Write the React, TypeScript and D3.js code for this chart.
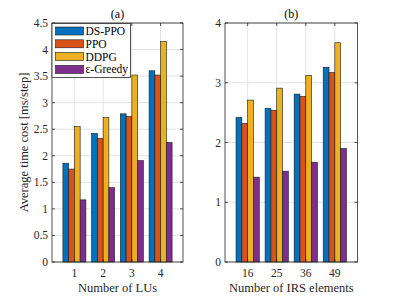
import React, { useEffect, useRef } from "react";
import * as d3 from "d3";

// Series and categories
const seriesNames = ["DS-PPO", "PPO", "DDPG", "\u03b5-Greedy"];
const seriesColors = ["#0072BD", "#D95319", "#EDB120", "#7E2F8E"];

const luLabels = ["1", "2", "3", "4"];
const luDsPpo = [1.86, 2.42, 2.79, 3.6];
const luPpo = [1.75, 2.33, 2.74, 3.52];
const luDdpg = [2.55, 2.72, 3.52, 4.15];
const luGreedy = [1.17, 1.4, 1.91, 2.25];
const luTicks = [0, 0.5, 1, 1.5, 2, 2.5, 3, 3.5, 4, 4.5];

const irsLabels = ["16", "25", "36", "49"];
const irsDsPpo = [2.42, 2.57, 2.81, 3.26];
const irsPpo = [2.32, 2.54, 2.77, 3.17];
const irsDdpg = [2.71, 2.91, 3.12, 3.67];
const irsGreedy = [1.42, 1.52, 1.67, 1.9];
const irsTicks = [0, 1, 2, 3, 4];

const FONT = "'Liberation Serif', 'Times New Roman', serif";
const AXIS = "#262626";

function drawPanel(svg, opts) {
  const { left, right, top, bottom, labels, series, yMax, ticks, title, xLabel, yLabel, legend } = opts;

  // category position scale (MATLAB-style xlim around 1..n)
  const x = d3.scaleLinear().domain([0.22, labels.length + 0.78]).range([left, right]);
  const y = d3.scaleLinear().domain([0, yMax]).range([bottom, top]);
  const step = x(2) - x(1);
  const sub = d3
    .scaleBand()
    .domain(d3.range(series.length))
    .range([-step * 0.4, step * 0.4]);

  const g = svg.append("g");

  // grid
  g.append("g")
    .selectAll("line")
    .data(ticks)
    .join("line")
    .attr("x1", left)
    .attr("x2", right)
    .attr("y1", d => y(d))
    .attr("y2", d => y(d))
    .attr("stroke", "#e3e3e3")
    .attr("stroke-width", 1);
  g.append("g")
    .selectAll("line")
    .data(labels)
    .join("line")
    .attr("x1", (d, i) => x(i + 1))
    .attr("x2", (d, i) => x(i + 1))
    .attr("y1", top)
    .attr("y2", bottom)
    .attr("stroke", "#e3e3e3")
    .attr("stroke-width", 1);

  // bars
  series.forEach((vals, s) => {
    g.append("g")
      .selectAll("rect")
      .data(vals)
      .join("rect")
      .attr("x", (d, i) => x(i + 1) + sub(s))
      .attr("y", d => y(d))
      .attr("width", sub.bandwidth())
      .attr("height", d => y(0) - y(d))
      .attr("fill", seriesColors[s])
      .attr("stroke", "#1a1a1a")
      .attr("stroke-width", 0.6);
  });

  // box
  g.append("rect")
    .attr("x", left)
    .attr("y", top)
    .attr("width", right - left)
    .attr("height", bottom - top)
    .attr("fill", "none")
    .attr("stroke", AXIS)
    .attr("stroke-width", 0.8);

  // y ticks (inward, both sides)
  const yt = g.append("g").attr("font-family", FONT).attr("font-size", 11.5).attr("fill", AXIS);
  ticks.forEach(t => {
    yt.append("line").attr("x1", left).attr("x2", left + 3).attr("y1", y(t)).attr("y2", y(t)).attr("stroke", AXIS).attr("stroke-width", 0.8);
    yt.append("line").attr("x1", right).attr("x2", right - 3).attr("y1", y(t)).attr("y2", y(t)).attr("stroke", AXIS).attr("stroke-width", 0.8);
    yt.append("text")
      .attr("x", left - 4)
      .attr("y", y(t))
      .attr("dy", "0.35em")
      .attr("text-anchor", "end")
      .text(t);
  });

  // x ticks
  labels.forEach((l, i) => {
    yt.append("line").attr("x1", x(i + 1)).attr("x2", x(i + 1)).attr("y1", bottom).attr("y2", bottom - 3).attr("stroke", AXIS).attr("stroke-width", 0.8);
    yt.append("line").attr("x1", x(i + 1)).attr("x2", x(i + 1)).attr("y1", top).attr("y2", top + 3).attr("stroke", AXIS).attr("stroke-width", 0.8);
    yt.append("text")
      .attr("x", x(i + 1))
      .attr("y", bottom + 14.5)
      .attr("text-anchor", "middle")
      .text(l);
  });

  // title and labels
  const cx = (left + right) / 2;
  g.append("text")
    .attr("x", cx)
    .attr("y", top - 5)
    .attr("text-anchor", "middle")
    .attr("font-family", FONT)
    .attr("font-size", 12)
    .attr("fill", "#000")
    .text(title);
  g.append("text")
    .attr("x", cx)
    .attr("y", bottom + 29.5)
    .attr("text-anchor", "middle")
    .attr("font-family", FONT)
    .attr("font-size", 12.5)
    .attr("fill", AXIS)
    .text(xLabel);
  if (yLabel) {
    g.append("text")
      .attr("transform", `translate(${left - 24.5},${(top + bottom) / 2}) rotate(-90)`)
      .attr("text-anchor", "middle")
      .attr("font-family", FONT)
      .attr("font-size", 12.5)
      .attr("fill", AXIS)
      .text(yLabel);
  }

  // legend
  if (legend) {
    const lg = g.append("g");
    lg.append("rect")
      .attr("x", left)
      .attr("y", top + 0.5)
      .attr("width", 78.5)
      .attr("height", 54)
      .attr("fill", "#fff")
      .attr("stroke", AXIS)
      .attr("stroke-width", 0.8);
    seriesNames.forEach((name, s) => {
      const cy = top + 8 + s * 12.8;
      lg.append("rect")
        .attr("x", left + 3.5)
        .attr("y", cy - 4)
        .attr("width", 28)
        .attr("height", 8)
        .attr("fill", seriesColors[s])
        .attr("stroke", "#1a1a1a")
        .attr("stroke-width", 0.6);
      lg.append("text")
        .attr("x", left + 33.5)
        .attr("y", cy)
        .attr("dy", "0.35em")
        .attr("font-family", FONT)
        .attr("font-size", 11.5)
        .attr("fill", "#000")
        .text(name);
    });
  }
}

export default function App() {
  const ref = useRef(null);

  useEffect(() => {
    d3.select(ref.current).selectAll("*").remove();

    const svg = d3
      .select(ref.current)
      .append("svg")
      .attr("width", 395)
      .attr("height", 296)
      .attr("viewBox", [0, 0, 395, 296])
      .style("position", "absolute")
      .style("left", "0px")
      .style("top", "0px")
      .style("background", "#fff");

    drawPanel(svg, {
      left: 52,
      right: 183,
      top: 23,
      bottom: 262,
      labels: luLabels,
      series: [luDsPpo, luPpo, luDdpg, luGreedy],
      yMax: 4.5,
      ticks: luTicks,
      title: "(a)",
      xLabel: "Number of LUs",
      yLabel: "Average time cost [ms/step]",
      legend: true
    });

    drawPanel(svg, {
      left: 225,
      right: 357.5,
      top: 23,
      bottom: 262,
      labels: irsLabels,
      series: [irsDsPpo, irsPpo, irsDdpg, irsGreedy],
      yMax: 4,
      ticks: irsTicks,
      title: "(b)",
      xLabel: "Number of IRS elements",
      yLabel: null,
      legend: false
    });
  }, []);

  return <div ref={ref}></div>;
}
